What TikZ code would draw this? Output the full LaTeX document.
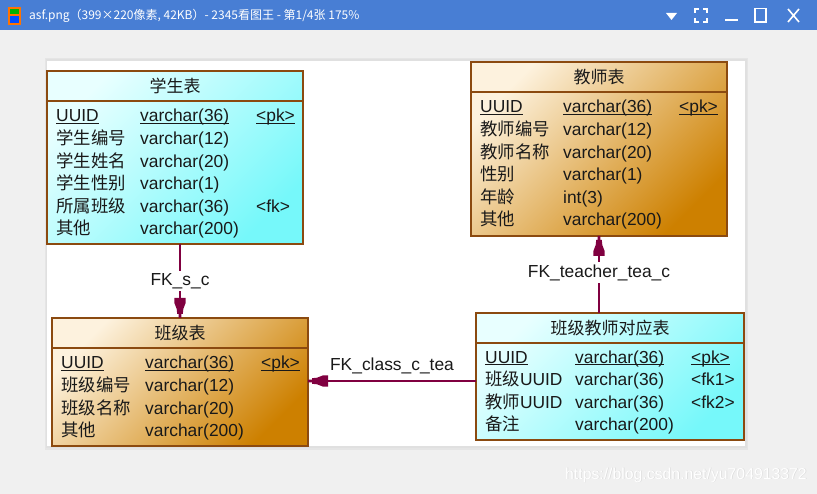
\documentclass[tikz,border=0pt]{standalone}
\usepackage{fontspec}
\setmainfont{Liberation Sans}
\newfontfamily\cjk{Noto Sans CJK SC}
\usetikzlibrary{calc}
\definecolor{brd}{RGB}{139,74,16}
\definecolor{fkc}{RGB}{128,0,64}
\definecolor{cyanA}{RGB}{232,255,255}
\definecolor{cyanB}{RGB}{118,248,250}
\definecolor{orA}{RGB}{253,242,222}
\definecolor{orB}{RGB}{205,128,0}
\definecolor{barblue}{RGB}{72,126,212}
\definecolor{winbg}{RGB}{240,240,240}
\definecolor{txt}{RGB}{25,25,25}
\newcommand\ulx[1]{\leavevmode\setbox0=\hbox{#1}\rlap{\rule[-2.2pt]{\wd0}{1.2pt}}\box0}
\newcommand\fkarrow[2]{\fill[fkc, shift={#1}, rotate=#2] (0,-1.4) -- (4,-1.4) -- (4,-2.8) -- (9,-3.3) -- (15,-5.6) -- (20,-5.6) -- (20,5.6) -- (15,5.6) -- (9,3.3) -- (4,2.8) -- (4,1.4) -- (0,1.4) -- cycle;}
\tikzset{
  tbl/.style={draw=brd, line width=1.3pt, rectangle, inner sep=0pt, outer sep=0pt, anchor=north west},
  cyantbl/.style={tbl, top color=cyanA, bottom color=cyanB, shading angle=45},
  ortbl/.style={tbl, top color=orA, bottom color=orB, shading angle=45},
  cell/.style={anchor=base west, inner sep=0pt, text=txt, font=\fontsize{17.4}{20}\selectfont},
  ttlnode/.style={inner sep=0pt, text=txt, font=\cjk\fontsize{17}{20}\selectfont},
  hdrline/.style={draw=brd, line width=1.3pt},
  fkline/.style={draw=fkc, line width=1.3pt},
  fklabel/.style={inner sep=2pt, text=txt, font=\fontsize{17.4}{20}\selectfont},
  btn/.style={draw=white, line width=1.6pt},
}
\begin{document}
\begin{tikzpicture}[x=1pt, y=-1pt]
\useasboundingbox (0,0) rectangle (817,494);
% window
\fill[winbg] (0,0) rectangle (817,494);
\fill[barblue] (0,0) rectangle (817,30);
\fill[orange!90!red] (8,7) rectangle (21,25);
\fill[green!70!black] (10,9) rectangle (19,14);
\fill[blue!70!cyan] (10,16) rectangle (19,23);
\node[anchor=west, inner sep=0pt, text=white, font=\cjk\fontsize{12}{14}\selectfont] (wintitle) at (29,16) {asf.png（399×220像素, 42KB）- 2345看图王 - 第1/4张 175\%};
\fill[white] (666,13) -- (677,13) -- (671.5,20) -- cycle;
\draw[btn] (695,13) -- (695,9) -- (699,9) (703,9) -- (707,9) -- (707,13) (707,18) -- (707,22) -- (703,22) (699,22) -- (695,22) -- (695,18);
\draw[btn] (725,20) -- (738,20);
\draw[btn, line width=1.3pt] (755,8.5) rectangle (766,22);
\draw[btn] (788,9) -- (799,22) (799,9) -- (788,22);
% canvas with shadow
\fill[black!6] (44,57) rectangle (749,451);
\fill[black!10] (45,58) rectangle (748,450);
\fill[black!12] (46,59) rectangle (747,448);
\fill[white] (47,61) rectangle (745,446);
% tables
\node[cyantbl, minimum width=256pt, minimum height=173pt] (stu) at (47,71) {};
\node[ortbl, minimum width=256pt, minimum height=174pt] (tea) at (471,62) {};
\node[ortbl, minimum width=256pt, minimum height=128pt] (cls) at (52,318) {};
\node[cyantbl, minimum width=268pt, minimum height=127pt] (map) at (476,313) {};
\foreach \t in {stu,tea,cls,map}{
  \draw[hdrline] ([yshift=-30pt]\t.north west) -- ([yshift=-30pt]\t.north east);
}
\node[ttlnode] (stu-t) at ([yshift=-15pt]stu.north) {学生表};
\node[ttlnode] (tea-t) at ([yshift=-15pt]tea.north) {教师表};
\node[ttlnode] (cls-t) at ([yshift=-15pt]cls.north) {班级表};
\node[ttlnode] (map-t) at ([yshift=-15pt]map.north) {班级教师对应表};
% rows
\foreach \a/\b [count=\i] in {{\ulx{UUID}}/{\ulx{varchar(36)}}, {\cjk 学生编号}/varchar(12), {\cjk 学生姓名}/varchar(20), {\cjk 学生性别}/varchar(1), {\cjk 所属班级}/varchar(36), {\cjk 其他}/varchar(200)}{
  \node[cell] (stu-a\i) at ([xshift=9pt, yshift={-(51+22.6*(\i-1))*1pt}]stu.north west) {\a};
  \node[cell] (stu-b\i) at ([xshift=93pt, yshift={-(51+22.6*(\i-1))*1pt}]stu.north west) {\b};
}
\node[cell] (stu-c1) at ([xshift=209pt, yshift=-51pt]stu.north west) {\ulx{<pk>}};
\node[cell] (stu-c5) at ([xshift=209pt, yshift={-(51+22.6*4)*1pt}]stu.north west) {<fk>};
\foreach \a/\b [count=\i] in {{\ulx{UUID}}/{\ulx{varchar(36)}}, {\cjk 教师编号}/varchar(12), {\cjk 教师名称}/varchar(20), {\cjk 性别}/varchar(1), {\cjk 年龄}/int(3), {\cjk 其他}/varchar(200)}{
  \node[cell] (tea-a\i) at ([xshift=9pt, yshift={-(51+22.6*(\i-1))*1pt}]tea.north west) {\a};
  \node[cell] (tea-b\i) at ([xshift=92pt, yshift={-(51+22.6*(\i-1))*1pt}]tea.north west) {\b};
}
\node[cell] (tea-c1) at ([xshift=208pt, yshift=-51pt]tea.north west) {\ulx{<pk>}};
\foreach \a/\b [count=\i] in {{\ulx{UUID}}/{\ulx{varchar(36)}}, {\cjk 班级编号}/varchar(12), {\cjk 班级名称}/varchar(20), {\cjk 其他}/varchar(200)}{
  \node[cell] (cls-a\i) at ([xshift=9pt, yshift={-(51+22.6*(\i-1))*1pt}]cls.north west) {\a};
  \node[cell] (cls-b\i) at ([xshift=93pt, yshift={-(51+22.6*(\i-1))*1pt}]cls.north west) {\b};
}
\node[cell] (cls-c1) at ([xshift=209pt, yshift=-51pt]cls.north west) {\ulx{<pk>}};
\foreach \a/\b [count=\i] in {{\ulx{UUID}}/{\ulx{varchar(36)}}, {{\cjk 班级}UUID}/varchar(36), {{\cjk 教师}UUID}/varchar(36), {\cjk 备注}/varchar(200)}{
  \node[cell] (map-a\i) at ([xshift=9pt, yshift={-(50+22.6*(\i-1))*1pt}]map.north west) {\a};
  \node[cell] (map-b\i) at ([xshift=99pt, yshift={-(50+22.6*(\i-1))*1pt}]map.north west) {\b};
}
\node[cell] (map-c1) at ([xshift=215pt, yshift=-50pt]map.north west) {\ulx{<pk>}};
\node[cell] (map-c2) at ([xshift=215pt, yshift=-72.6pt]map.north west) {<fk1>};
\node[cell] (map-c3) at ([xshift=215pt, yshift=-95.2pt]map.north west) {<fk2>};
% connectors
\draw[fkline] (stu.south -| cls.north) -- (cls.north);
\node[fklabel, fill=white] (l-sc) at ($(stu.south -| cls.north)!0.5!(cls.north)$) {FK\_s\_c};
\fkarrow{(cls.north)}{90}
\coordinate (cm) at ([yshift=-68pt]map.north west);
\coordinate (cc) at (cm -| cls.east);
\draw[fkline] (cm) -- (cc);
\node[fklabel] (l-ct) at ([yshift=15pt]$(cm)!0.5!(cc)$) {FK\_class\_c\_tea};
\fkarrow{(cc)}{0}
\draw[fkline] (map.north -| tea.south) -- (tea.south);
\node[fklabel, fill=white] (l-tt) at ([yshift=2pt]$(map.north -| tea.south)!0.5!(tea.south)$) {FK\_teacher\_tea\_c};
\fkarrow{(tea.south)}{-90}
% watermark
\node[anchor=west, inner sep=0pt, text=black!14, font=\fontsize{15.8}{18}\selectfont] (wm-s) at (565.7,475.7) {https://blog.csdn.net/yu704913372};
\node[anchor=west, inner sep=0pt, text=white, font=\fontsize{15.8}{18}\selectfont] (wm) at (565,475) {https://blog.csdn.net/yu704913372};
\end{tikzpicture}
\end{document}
